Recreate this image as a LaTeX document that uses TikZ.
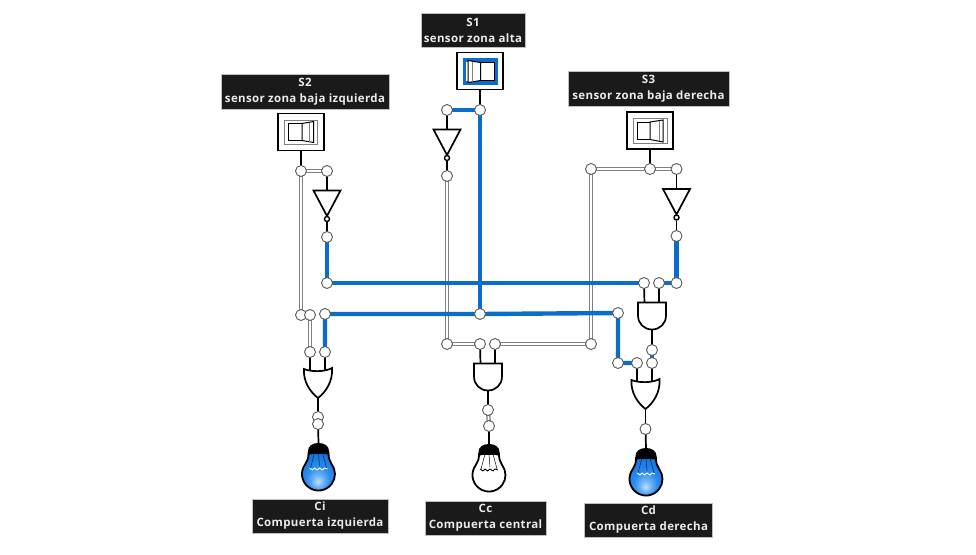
\documentclass[tikz,border=0pt]{standalone}
\usepackage{fontspec}
\setmainfont{Open Sans}[LetterSpace=3]
\definecolor{wireblue}{HTML}{0A6CCB}
\definecolor{wiregray}{HTML}{808080}
\definecolor{labelbg}{HTML}{1A1A1A}
\definecolor{glowa}{HTML}{BFE0FF}
\definecolor{glowb}{HTML}{6AB0F5}
\definecolor{glowc}{HTML}{2C8CEF}
\definecolor{glowd}{HTML}{1478E0}
\definecolor{glowe}{HTML}{0A5FB8}
\pgfdeclareradialshading{bulbglow}{\pgfpoint{0bp}{-12bp}}{%
  color(0bp)=(glowa);
  color(8bp)=(glowb);
  color(16bp)=(glowc);
  color(28bp)=(glowd);
  color(36bp)=(glowe);
  color(50bp)=(glowe)}
\tikzset{
  x=1pt,y=-1pt,
  wireoff/.style={draw=wiregray,line width=1.3pt,double=white,double distance=1.7pt},
  wireon/.style={draw=wireblue,line width=4.4pt},
  lead/.style={draw=black,line width=1.7pt},
  gatebody/.style={draw=black,line width=1.7pt,fill=white,line join=miter},
  junction/.style={circle,draw=black!65,line width=.9pt,fill=white,minimum size=11pt,inner sep=0pt},
  bubble/.style={circle,draw=black,line width=1.4pt,fill=white,minimum size=5pt,inner sep=0pt},
  tag/.style={fill=labelbg,draw=black!25,line width=.5pt,text=white!92!black,align=center,inner sep=0pt,font=\bfseries\fontsize{11.5}{16}\selectfont},
  switchbox/.style={draw=black,line width=1.9pt,fill=white,minimum width=45.5pt,minimum height=37pt,inner sep=0pt},
  lamplit/.style={draw=black,line width=1.8pt,shading=bulbglow},
  lampdark/.style={draw=black,line width=1.8pt,fill=white},
}
\newcommand{\invgate}[3]{%
  \coordinate (#1-in) at (#2,#3);
  \draw[gatebody] (#2-13.5,#3) -- (#2+13.5,#3) -- (#2,#3+25.5) -- cycle;
  \node[bubble] (#1-out) at (#2,#3+28.5) {};
}
\newcommand{\andgate}[3]{%
  \coordinate (#1-a) at (#2-7,#3);
  \coordinate (#1-b) at (#2+7,#3);
  \coordinate (#1-out) at (#2,#3+27);
  \draw[gatebody] (#2-14,#3) -- (#2+14,#3) -- (#2+14,#3+13)
    .. controls (#2+14,#3+21) and (#2+8,#3+27) .. (#2,#3+27)
    .. controls (#2-8,#3+27) and (#2-14,#3+21) .. (#2-14,#3+13) -- cycle;
}
\newcommand{\orgate}[3]{%
  \coordinate (#1-out) at (#2,#3+30);
  \draw[gatebody] (#2-14,#3+1)
    .. controls (#2-7,#3+4) and (#2+7,#3+4) .. (#2+14,#3)
    .. controls (#2+15,#3+13) and (#2+8,#3+24) .. (#2,#3+30)
    .. controls (#2-8,#3+24) and (#2-15,#3+13) .. (#2-14,#3+1) -- cycle;
}
% lamp: name, centre x, centre y, body style
\newcommand{\lampbody}[4]{%
  \coordinate (#1-top) at (#2,#3-31);
  \path[#4] (#2-10,#3-21)
    .. controls (#2-10,#3-16) and (#2-11,#3-13) .. (#2-13.2,#3-9.9)
    arc[start angle=217,end angle=-37,radius=16.5]
    .. controls (#2+11,#3-13) and (#2+10,#3-16) .. (#2+10,#3-21) -- cycle;
}
\newcommand{\lampcap}[2]{%
  \fill[black] (#1-10.5,#2-19) -- (#1-10.5,#2-23)
    .. controls (#1-10.5,#2-28) and (#1-6,#2-31) .. (#1,#2-31)
    .. controls (#1+6,#2-31) and (#1+10.5,#2-28) .. (#1+10.5,#2-23)
    -- (#1+10.5,#2-19)
    .. controls (#1+6,#2-21) and (#1-6,#2-21) .. (#1-10.5,#2-19) -- cycle;
}
\newcommand{\lampfil}[3]{%
  \draw[#3,line width=.5pt] (#1-4,#2-21) -- (#1-8,#2-6) (#1+4,#2-21) -- (#1+8,#2-6) (#1,#2-21) -- (#1+1,#2-8);
}
\newcommand{\lampzig}[3]{%
  \draw[#3,line width=.9pt,line join=round] (#1-9,#2-6) -- (#1-6,#2-4) -- (#1-4,#2-6) -- (#1-1.5,#2-4) -- (#1+1,#2-6) -- (#1+4,#2-4) -- (#1+6,#2-6) -- (#1+9,#2-5);
}
\begin{document}
\begin{tikzpicture}
\useasboundingbox (0,0) rectangle (976,554);
% labels
\node[tag,minimum width=104pt,minimum height=34pt] (t1) at (473,30) {S1\\sensor zona alta};
\node[tag,minimum width=168pt,minimum height=35pt] (t2) at (305,91.5) {S2\\sensor zona baja izquierda};
\node[tag,minimum width=161pt,minimum height=35pt] (t3) at (648.5,89) {S3\\sensor zona baja derecha};
\node[tag,minimum width=136pt,minimum height=34pt] (t4) at (320,516) {Ci\\Compuerta izquierda};
\node[tag,minimum width=121pt,minimum height=34pt] (t5) at (485.5,518) {Cc\\Compuerta central};
\node[tag,minimum width=128pt,minimum height=34pt] (t6) at (648.5,520) {Cd\\Compuerta derecha};
% switches
\node[switchbox] (s1) at (480,71) {};
\node[switchbox] (s2) at (301,132) {};
\node[switchbox] (s3) at (650,130.5) {};
% junction coordinates
\coordinate (a1) at (301,171); \coordinate (a2) at (327,171); \coordinate (a3) at (327,237);
\coordinate (a4) at (327,283); \coordinate (a5) at (301,315); \coordinate (a6) at (310,315);
\coordinate (a7) at (325,314); \coordinate (a8) at (310,352); \coordinate (a9) at (325,352);
\coordinate (a10) at (318,417); \coordinate (a11) at (318,424);
\coordinate (b1) at (480,110); \coordinate (b2) at (447,110); \coordinate (b3) at (447,176);
\coordinate (b4) at (480,314); \coordinate (b5) at (447,344); \coordinate (b6) at (480,344);
\coordinate (b7) at (495,344); \coordinate (b8) at (591,344); \coordinate (b9) at (488,410);
\coordinate (b10) at (489,426);
\coordinate (c1) at (650,169); \coordinate (c2) at (591,169); \coordinate (c3) at (676.5,169);
\coordinate (c4) at (676.5,236); \coordinate (c5) at (676.5,283); \coordinate (c6) at (659,283);
\coordinate (c7) at (644,283); \coordinate (c8) at (618,313); \coordinate (c9) at (618,363);
\coordinate (c10) at (637,363); \coordinate (c11) at (652,350); \coordinate (c12) at (652,363);
\coordinate (c13) at (645.5,429);
% off wires
\draw[wireoff] (a2) -- (a1) -- (a5);
\draw[wireoff] (a6) -- (a8);
\draw[wireoff] (b3) -- (b5) -- (b6);
\draw[wireoff] (b7) -- (b8) -- (c2) -- (c3);
\draw[wireoff] (a10) -- (a11);
\draw[wireoff] (b9) -- (b10);
% on wires
\draw[wireon] (b2) -- (b1) -- (b4);
\draw[wireon] (a3) -- (a4) -- (c7);
\draw[wireon] (c4) -- (c5) -- (c6);
\draw[wireon] (a9) -- (a7) -- (b4) -- (c8) -- (c9) -- (c10);
\draw[wireon] (c11) -- (c12);
% leads
\draw[lead] (s1.south) -- (b1);
\draw[lead] (s2.south) -- (a1);
\draw[lead] (s3.south) -- (c1);
\coordinate (i2) at (327,190.5); \coordinate (i1) at (447,129.5); \coordinate (i3) at (676.5,189);
\draw[lead] (a2) -- (i2); \draw[lead] (b2) -- (i1); \draw[lead] (c3) -- (i3);
\invgate{g2}{327}{190.5}
\invgate{g1}{447}{129.5}
\invgate{g3}{676.5}{189}
\draw[lead] (g2-out) -- (a3); \draw[lead] (g1-out) -- (b3); \draw[lead] (g3-out) -- (c4);
% gates
\draw[lead] (a8) -- (310,372); \draw[lead] (a9) -- (325,372);
\orgate{ol}{318}{368}
\draw[lead] (b6) -- (480.5,365); \draw[lead] (b7) -- (495,365);
\andgate{ac}{488}{363.5}
\draw[lead] (c7) -- (644.5,304); \draw[lead] (c6) -- (659,304);
\andgate{ar}{652}{302.5}
\draw[lead] (c10) -- (637,383); \draw[lead] (c12) -- (652,383);
\orgate{orr}{645.5}{379}
\draw[lead] (ol-out) -- (a10);
\draw[lead] (ac-out) -- (b9);
\draw[lead] (ar-out) -- (c11);
\draw[lead] (orr-out) -- (c13);
% lamps
\lampbody{lampL}{318.5}{474}{lamplit}
\lampbody{lampC}{489}{475}{lampdark}
\lampbody{lampR}{646}{479}{lamplit}
\lampfil{318.5}{474}{black!60!glowe}
\lampfil{489}{475}{black}
\lampfil{646}{479}{black!60!glowe}
\lampzig{318.5}{474}{white}
\lampzig{489}{475}{black}
\lampzig{646}{479}{white}
\lampcap{318.5}{474}
\lampcap{489}{475}
\lampcap{646}{479}
\draw[lead] (a11) -- (lampL-top);
\draw[lead] (b10) -- (lampC-top);
\draw[lead] (c13) -- (lampR-top);
% switch faces
\draw[wiregray,line width=1pt] (284,120) rectangle (317.3,144.5);
\draw[black,line width=1pt,fill=white] (288,123.5) rectangle (302,140.5);
\draw[black,line width=1pt,fill=white] (302,123.5) -- (313.5,121.5) -- (313.5,142.5) -- (302,140.5) -- cycle;
\draw[wiregray,line width=.7pt] (309.5,122.5) -- (309.5,141.5);
\draw[wireblue,line width=3.5pt] (464.5,60) rectangle (496.5,83);
\draw[black,line width=1pt,fill=white] (480.5,62.5) rectangle (494,80.5);
\draw[black,line width=1pt,fill=white] (480.5,62.5) -- (468,60.5) -- (468,82.5) -- (480.5,80.5) -- cycle;
\draw[wiregray,line width=.7pt] (472,61.5) -- (472,81.5);
\draw[wiregray,line width=1pt] (633,118.5) rectangle (667.5,143.5);
\draw[black,line width=1pt,fill=white] (637,122) rectangle (650,139.5);
\draw[black,line width=1pt,fill=white] (650,122) -- (663,120) -- (663,142) -- (650,139.5) -- cycle;
\draw[wiregray,line width=.7pt] (659,121) -- (659,141);
% junctions
\foreach \n in {a1,a2,a3,a4,a5,a6,a7,a8,a9,a10,a11,b1,b2,b3,b4,b5,b6,b7,b8,b9,b10,c1,c2,c3,c4,c5,c6,c7,c8,c9,c10,c11,c12,c13}
  \node[junction] (n\n) at (\n) {};
\end{tikzpicture}
\end{document}
